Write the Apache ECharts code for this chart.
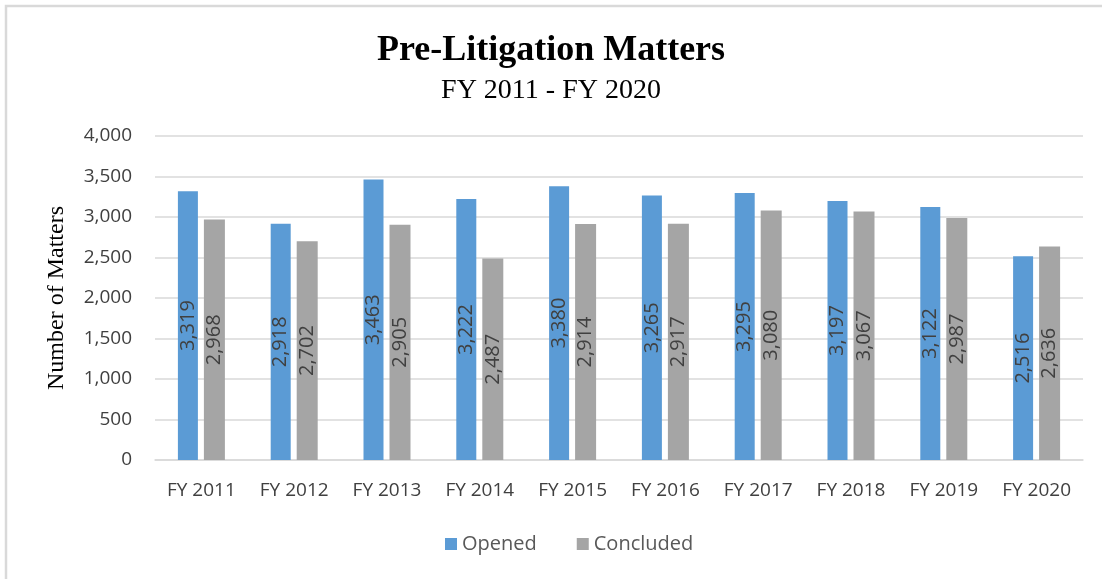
<!DOCTYPE html>
<html>
<head>
<meta charset="utf-8">
<script src="https://cdn.jsdelivr.net/npm/echarts@6/dist/echarts.min.js"></script>
<style>
  html, body { margin: 0; padding: 0; background: #fff; }
  #main { width: 1102px; height: 579px; }
</style>
</head>
<body>
<div id="main"></div>
<script>
var categories = ['FY 2011', 'FY 2012', 'FY 2013', 'FY 2014', 'FY 2015',
                  'FY 2016', 'FY 2017', 'FY 2018', 'FY 2019', 'FY 2020'];
var opened = [3319, 2918, 3463, 3222, 3380, 3265, 3295, 3197, 3122, 2516];
var concluded = [2968, 2702, 2905, 2487, 2914, 2917, 3080, 3067, 2987, 2636];

var myChart = echarts.init(document.getElementById('main'));

function fmt(v) {
    return v.toString().replace(/\B(?=(\d{3})+(?!\d))/g, ',');
}

var barLabel = {
    show: true,
    position: 'inside',
    rotate: 90,
    color: '#404040',
    fontFamily: 'Open Sans',
    fontSize: 20,
    formatter: function (p) { return fmt(p.value); }
};

var option = {
    backgroundColor: '#fff',
    graphic: [{
        // outer frame: only top and left edges are visible
        type: 'polyline',
        shape: { points: [[6, 579], [6, 6], [1102, 6]] },
        style: { fill: 'none', stroke: '#d9d9d9', lineWidth: 2.5 },
        silent: true
    }],
    title: [{
        text: 'Pre-Litigation Matters',
        left: 'center',
        top: 28,
        textStyle: {
            fontFamily: 'Liberation Serif',
            fontWeight: 'bold',
            fontSize: 36,
            color: '#000'
        }
    }, {
        text: 'FY 2011 - FY 2020',
        left: 'center',
        top: 72,
        textStyle: {
            fontFamily: 'Liberation Serif',
            fontWeight: 'normal',
            fontSize: 28,
            color: '#000'
        }
    }],
    legend: {
        bottom: 20,
        left: 440,
        itemWidth: 12,
        itemHeight: 12,
        itemGap: 40,
        icon: 'rect',
        textStyle: { fontFamily: 'Open Sans', fontSize: 20, color: '#595959' },
        data: ['Opened', 'Concluded']
    },
    grid: {
        left: 155,
        right: 19,
        top: 136,
        bottom: 119,
        containLabel: false
    },
    xAxis: {
        type: 'category',
        data: categories,
        axisLine: { lineStyle: { color: '#d9d9d9', width: 1.5 } },
        axisTick: { show: false },
        axisLabel: {
            fontFamily: 'Open Sans',
            fontSize: 19,
            color: '#404040',
            margin: 21
        }
    },
    yAxis: {
        type: 'value',
        min: 0,
        max: 4000,
        interval: 500,
        name: 'Number of Matters',
        nameLocation: 'middle',
        nameGap: 86,
        nameTextStyle: {
            fontFamily: 'Liberation Serif',
            fontSize: 24,
            color: '#000'
        },
        axisLine: { show: false },
        axisTick: { show: false },
        splitLine: { lineStyle: { color: '#d9d9d9', width: 1.5 } },
        axisLabel: {
            fontFamily: 'Open Sans',
            fontSize: 19,
            color: '#404040',
            margin: 23,
            formatter: function (v) { return fmt(v); }
        }
    },
    series: [{
        name: 'Opened',
        type: 'bar',
        data: opened,
        barWidth: 20,
        barGap: '30%',
        itemStyle: { color: '#5b9bd5' },
        label: barLabel
    }, {
        name: 'Concluded',
        type: 'bar',
        data: concluded,
        barWidth: 21,
        itemStyle: { color: '#a5a5a5' },
        label: barLabel
    }]
};

myChart.setOption(option);
</script>
</body>
</html>
